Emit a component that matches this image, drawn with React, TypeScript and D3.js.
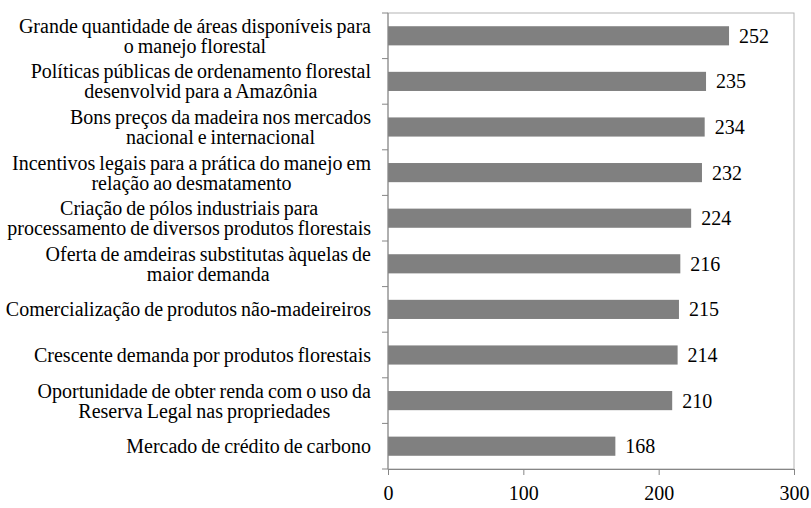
import React, { useEffect, useRef } from 'react';
import * as d3 from 'd3';

// categories (each entry = lines of the label), top to bottom
const categories: string[][] = [
  ['Grande quantidade de áreas disponíveis para', 'o manejo florestal'],
  ['Políticas públicas de ordenamento florestal', 'desenvolvid para a Amazônia'],
  ['Bons preços da madeira nos mercados', 'nacional e internacional'],
  ['Incentivos legais para a prática do manejo em', 'relação ao desmatamento'],
  ['Criação de pólos industriais para', 'processamento de diversos produtos florestais'],
  ['Oferta de amdeiras substitutas àquelas de', 'maior demanda'],
  ['Comercialização de produtos não-madeireiros'],
  ['Crescente demanda por produtos florestais'],
  ['Oportunidade de obter renda com o uso da', 'Reserva Legal nas propriedades'],
  ['Mercado de crédito de carbono'],
];
const values = [252, 235, 234, 232, 224, 216, 215, 214, 210, 168];
const xTicks = [0, 100, 200, 300];

export default function App() {
  const ref = useRef<SVGSVGElement>(null);

  useEffect(() => {
    document.body.style.margin = '0';
    const width = 811;
    const height = 508;
    const margin = { top: 13, right: 17, bottom: 39, left: 388 };
    const fontSize = 20;
    const fontFamily = "'Liberation Serif', 'Times New Roman', serif";

    const svg = d3.select(ref.current);
    svg.selectAll('*').remove();

    const ids = categories.map((_, i) => String(i));
    const y = d3.scaleBand()
      .domain(ids)
      .range([margin.top, height - margin.bottom])
      .paddingInner(0.58)
      .paddingOuter(0.29);
    const yOuter = d3.scaleBand()
      .domain(ids)
      .range([margin.top, height - margin.bottom]);

    const x = d3.scaleLinear()
      .domain([0, 300])
      .range([margin.left, width - margin.right]);

    // plot area border (light)
    svg.append('rect')
      .attr('x', x(0))
      .attr('y', margin.top)
      .attr('width', x(300) - x(0))
      .attr('height', height - margin.bottom - margin.top)
      .attr('fill', 'none')
      .attr('stroke', '#b3b3b3')
      .attr('stroke-width', 1);

    // bars
    svg.selectAll('rect.bar')
      .data(values)
      .enter()
      .append('rect')
      .attr('class', 'bar')
      .attr('x', x(0))
      .attr('y', (_, i) => y(ids[i])!)
      .attr('width', d => x(d) - x(0))
      .attr('height', y.bandwidth())
      .attr('fill', '#808080');

    // value labels
    svg.selectAll('text.val')
      .data(values)
      .enter()
      .append('text')
      .attr('class', 'val')
      .attr('x', d => x(d) + 10)
      .attr('y', (_, i) => y(ids[i])! + y.bandwidth() / 2)
      .attr('dy', '0.35em')
      .style('font-family', fontFamily)
      .style('font-size', fontSize + 'px')
      .attr('fill', '#000')
      .text(d => d);

    // y axis with outward ticks at category boundaries
    const yAxis = svg.append('g');
    yAxis.append('line')
      .attr('x1', x(0)).attr('x2', x(0))
      .attr('y1', margin.top).attr('y2', height - margin.bottom)
      .attr('stroke', '#868686');
    const bounds = d3.range(categories.length + 1).map(i =>
      i < categories.length ? yOuter(ids[i])! : height - margin.bottom);
    yAxis.selectAll('line.tick')
      .data(bounds)
      .enter()
      .append('line')
      .attr('class', 'tick')
      .attr('x1', x(0) - 6).attr('x2', x(0))
      .attr('y1', d => d).attr('y2', d => d)
      .attr('stroke', '#868686');

    // x axis
    const xAxis = svg.append('g')
      .attr('transform', `translate(0, ${height - margin.bottom})`)
      .call(d3.axisBottom(x).tickValues(xTicks).tickSize(6).tickPadding(11).tickFormat(d3.format('')));
    xAxis.attr('font-family', null).attr('font-size', null);
    xAxis.select('.domain').attr('stroke', '#868686');
    xAxis.selectAll('.tick line').attr('stroke', '#868686');
    xAxis.selectAll('.tick text')
      .style('font-family', fontFamily)
      .style('font-size', fontSize + 'px')
      .attr('fill', '#000');

    // category labels: centred lines, block right-aligned
    const labelRight = 371;
    const lineH = 20;
    categories.forEach((lines, i) => {
      const cy = yOuter(ids[i])! + yOuter.bandwidth() / 2;
      const g = svg.append('g');
      const texts = lines.map((line, j) =>
        g.append('text')
          .attr('y', cy + (j - (lines.length - 1) / 2) * lineH)
          .attr('dy', '0.35em')
          .style('font-family', fontFamily)
          .style('font-size', fontSize + 'px')
          .style('word-spacing', '-1px')
          .attr('text-anchor', 'middle')
          .attr('fill', '#000')
          .text(line));
      const maxW = d3.max(texts, t => (t.node() as SVGTextElement).getComputedTextLength()) || 0;
      texts.forEach(t => t.attr('x', labelRight - maxW / 2));
    });
  }, []);

  return <svg ref={ref} width={811} height={508} style={{ display: 'block' }}></svg>;
}
